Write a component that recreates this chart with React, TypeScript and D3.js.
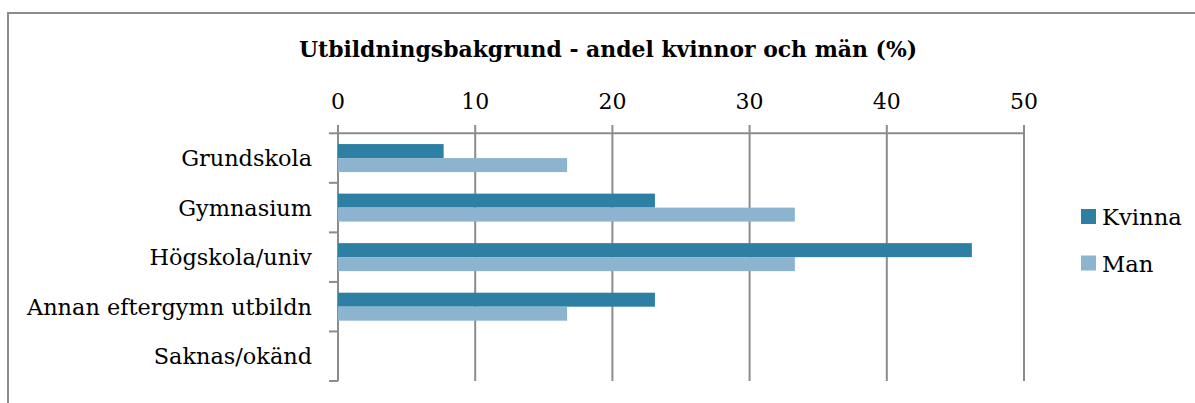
import React from "react";
import * as d3 from "d3";

const categories = ["Grundskola", "Gymnasium", "Högskola/univ", "Annan eftergymn utbildn", "Saknas/okänd"];
const kvinna = [7.7, 23.1, 46.2, 23.1, 0];
const man = [16.7, 33.3, 33.3, 16.7, 0];
const seriesNames = ["Kvinna", "Man"];
const seriesColors = ["#2E7FA4", "#8DB4CF"];
const xTicks = [0, 10, 20, 30, 40, 50];
const title = "Utbildningsbakgrund - andel kvinnor och män (%)";

const W = 1195;
const H = 403;
const FONT = "'DejaVu Serif', serif";

export default function App() {
  const x = d3.scaleLinear().domain([0, 50]).range([338, 1024]);
  const y = d3.scaleBand<string>().domain(categories).range([133.3, 381]);
  const inner = d3
    .scaleBand<string>()
    .domain(seriesNames)
    .range([0, 28]);
  const barOffset = (y.bandwidth() - 28) / 2;
  const series = [kvinna, man];
  const boundaries = categories.map((c) => y(c) as number).concat([381]);

  return (
    <svg
      width={W}
      height={H}
      style={{ position: "absolute", left: 0, top: 0, background: "#fff" }}
      fontFamily={FONT}
    >
      <rect x={0} y={0} width={W} height={H} fill="#fff" />
      {/* chart border */}
      <rect x={8} y={13} width={W + 20} height={H + 20} fill="none" stroke="#8c8c8c" strokeWidth={2} />
      <text x={608} y={57} textAnchor="middle" fontSize={21.9} fontWeight="bold" fill="#000">
        {title}
      </text>
      {/* gridlines */}
      {xTicks.map((t) => (
        <line key={"g" + t} x1={x(t)} x2={x(t)} y1={125} y2={381} stroke="#8c8c8c" strokeWidth={2} />
      ))}
      {/* top axis */}
      <line x1={x(0)} x2={x(50)} y1={133.3} y2={133.3} stroke="#8c8c8c" strokeWidth={2} />
      {xTicks.map((t) => (
        <text key={"t" + t} x={x(t)} y={109} textAnchor="middle" fontSize={22} fill="#000">
          {t}
        </text>
      ))}
      {/* category ticks */}
      {boundaries.map((b, i) => (
        <line key={"c" + i} x1={329} x2={338} y1={b} y2={b} stroke="#8c8c8c" strokeWidth={2} />
      ))}
      {categories.map((c) => (
        <text
          key={"l" + c}
          x={312}
          y={(y(c) as number) + y.bandwidth() / 2 + 8}
          textAnchor="end"
          fontSize={22.4}
          fill="#000"
        >
          {c}
        </text>
      ))}
      {/* bars */}
      {series.map((vals, si) =>
        vals.map((v, ci) =>
          v > 0 ? (
            <rect
              key={"b" + si + ci}
              x={x(0)}
              y={(y(categories[ci]) as number) + barOffset + (inner(seriesNames[si]) as number)}
              width={x(v) - x(0)}
              height={inner.bandwidth()}
              fill={seriesColors[si]}
            />
          ) : null
        )
      )}
      {/* legend */}
      {seriesNames.map((s, i) => (
        <g key={"lg" + s} transform={`translate(1081, ${209 + i * 46.5})`}>
          <rect x={0} y={0} width={15} height={15} fill={seriesColors[i]} />
          <text x={21} y={16} fontSize={22.7} fill="#000">
            {s}
          </text>
        </g>
      ))}
    </svg>
  );
}
